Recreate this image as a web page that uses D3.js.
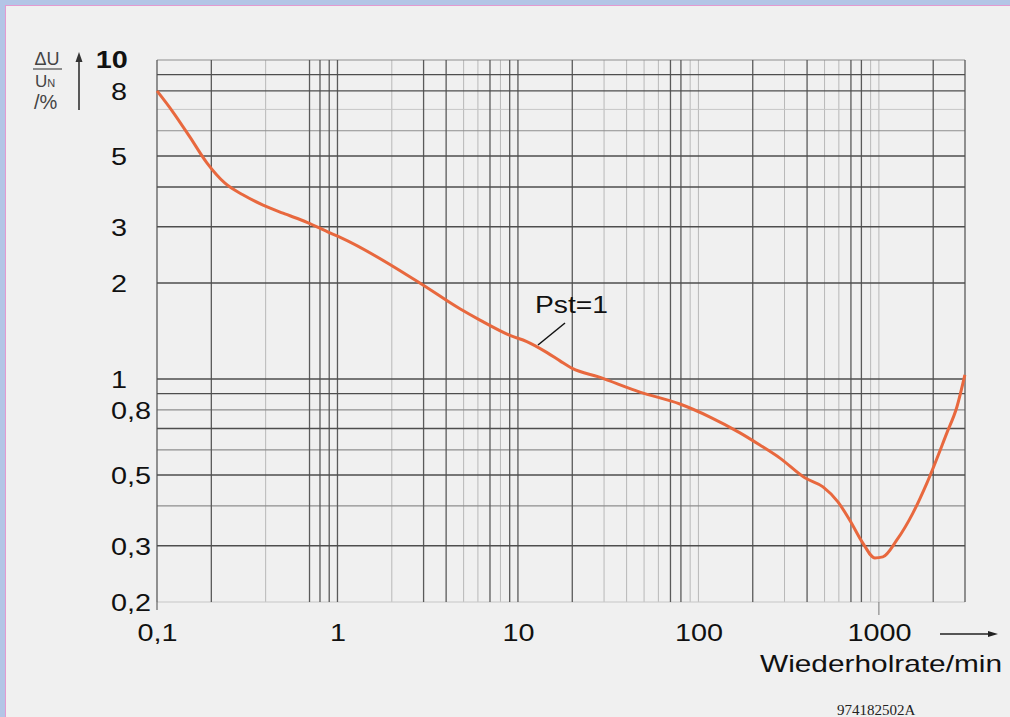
<!DOCTYPE html>
<html>
<head>
<meta charset="utf-8">
<script src="https://cdn.jsdelivr.net/npm/d3@7"></script>
<style>
  html, body { margin: 0; padding: 0; background: #f0f0f0; }
  svg { display: block; }
</style>
</head>
<body>
<svg id="chart" width="1010" height="717"></svg>
<script>
// ---- data ----
const rateValues = [0.1, 0.1226, 0.152, 0.189, 0.238, 0.299, 0.387, 0.499, 0.678, 0.909, 1.05, 2.86, 4.77, 6.16, 9.03, 11.2, 14.5, 17.1, 20, 28, 47.4, 79, 116, 170, 219, 283, 389, 490, 593, 690, 815, 950, 1052, 1258, 1543, 1845, 2381, 2705, 2995];
const dUValues   = [8.0, 6.87, 5.74, 4.76, 4.11, 3.78, 3.51, 3.31, 3.10, 2.87, 2.77, 2.0, 1.66, 1.53, 1.37, 1.31, 1.21, 1.14, 1.08, 1.015, 0.91, 0.835, 0.76, 0.678, 0.621, 0.565, 0.49, 0.459, 0.412, 0.361, 0.306, 0.275, 0.277, 0.313, 0.380, 0.472, 0.678, 0.817, 1.03];
const xTickValues = [0.1, 1, 10, 100, 1000];
const xTickLabels = ["0,1", "1", "10", "100", "1000"];
const yTickValues = [10, 8, 5, 3, 2, 1, 0.8, 0.5, 0.3, 0.2];
const yTickLabels = ["10", "8", "5", "3", "2", "1", "0,8", "0,5", "0,3", "0,2"];
const gridXDark  = [0.1, 0.2, 0.7, 0.8, 0.9, 1, 3, 4, 7, 9, 10, 20, 70, 80, 200, 400, 700, 800, 2000, 3000];
const gridXLight = [0.4, 2, 5, 6, 8, 30, 40, 50, 60, 90, 100, 300, 500, 600, 900, 1000];
const gridYDark  = [9, 8, 5, 4, 3, 2, 1, 0.9, 0.7, 0.5, 0.3];
const gridYMid   = [10, 6, 0.8, 0.6, 0.4];
const gridYLight = [7, 0.2];
const curveLabel = "Pst=1";
const xAxisTitle = "Wiederholrate/min";
const figureCode = "974182502A";

// ---- layout ----
const SANS = "'Liberation Sans', Arial, sans-serif";
const svg = d3.select("#chart");
const x = d3.scaleLog().domain([0.1, 3000]).range([157, 965]);
const y = d3.scaleLog().domain([0.2, 10]).range([602, 60]);

// page frame
svg.append("rect").attr("x", 0).attr("y", 0).attr("width", 1010).attr("height", 717).attr("fill", "#f0f0f0");
svg.append("rect").attr("x", 0).attr("y", 0).attr("width", 1010).attr("height", 5).attr("fill", "#b3c5e6");
svg.append("rect").attr("x", 0).attr("y", 0).attr("width", 5).attr("height", 717).attr("fill", "#b3c5e6");
svg.append("line").attr("x1", 5).attr("x2", 1010).attr("y1", 5.5).attr("y2", 5.5).attr("stroke", "#e39ad0").attr("stroke-width", 1);
svg.append("line").attr("x1", 5.5).attr("x2", 5.5).attr("y1", 5).attr("y2", 717).attr("stroke", "#e39ad0").attr("stroke-width", 1);

// grid
const grid = svg.append("g");
function vLines(vals, color, w) {
  grid.selectAll(null).data(vals).enter().append("line")
    .attr("x1", d => x(d)).attr("x2", d => x(d))
    .attr("y1", y(10)).attr("y2", y(0.2))
    .attr("stroke", color).attr("stroke-width", w);
}
function hLines(vals, color, w) {
  grid.selectAll(null).data(vals).enter().append("line")
    .attr("x1", x(0.1)).attr("x2", x(3000))
    .attr("y1", d => y(d)).attr("y2", d => y(d))
    .attr("stroke", color).attr("stroke-width", w);
}
vLines(gridXLight, "#b8b8b8", 1);
hLines(gridYLight, "#c6c6c6", 1);
hLines(gridYMid, "#8e8e8e", 1.2);
vLines(gridXDark, "#5a5a5a", 1.3);
hLines(gridYDark, "#4e4e4e", 1.4);
grid.append("line").attr("x1", x(1000)).attr("x2", x(1000)).attr("y1", y(0.2)).attr("y2", y(0.2) + 13)
  .attr("stroke", "#777").attr("stroke-width", 1);
grid.append("line").attr("x1", x(0.1)).attr("x2", x(0.1)).attr("y1", y(0.2)).attr("y2", y(0.2) + 8)
  .attr("stroke", "#666").attr("stroke-width", 1.2);

// curve
const line = d3.line().x((d, i) => x(rateValues[i])).y(d => y(d)).curve(d3.curveMonotoneX);
svg.append("path").datum(dUValues).attr("d", line)
  .attr("fill", "none").attr("stroke", "#e8683e").attr("stroke-width", 3).attr("stroke-linejoin", "round");

// axes
const xAxis = d3.axisBottom(x).tickValues(xTickValues)
  .tickFormat((d, i) => xTickLabels[i]).tickSize(0).tickPadding(0);
const gx = svg.append("g").attr("transform", `translate(0,${y(0.2)})`).call(xAxis);
gx.select(".domain").remove();
gx.selectAll("text").attr("y", 39).attr("dy", 0)
  .style("font-size", "24px").style("font-family", SANS)
  .attr("fill", "#111").attr("transform", "scale(1.2,1)");

const yAxis = d3.axisLeft(y).tickValues(yTickValues)
  .tickFormat((d, i) => yTickLabels[i]).tickSize(0).tickPadding(0);
const gy = svg.append("g").attr("transform", "translate(111,0)").call(yAxis);
gy.select(".domain").remove();
gy.selectAll("text")
  .attr("x", 0).attr("dy", "0.35em")
  .attr("text-anchor", "start")
  .style("font-size", "24px").style("font-family", SANS)
  .attr("fill", "#111").attr("transform", "scale(1.2,1)");
gy.selectAll(".tick").filter(d => d === 10).select("text")
  .attr("text-anchor", "end").attr("x", 14).attr("dy", "0.3em").style("font-weight", "bold");

// y-axis header
svg.append("text").attr("x", 47).attr("y", 65).attr("text-anchor", "middle")
  .style("font-family", SANS).style("font-size", "18px").attr("fill", "#444").text("ΔU");
svg.append("line").attr("x1", 33).attr("x2", 62).attr("y1", 69).attr("y2", 69).attr("stroke", "#555").attr("stroke-width", 1.3);
const un = svg.append("text").attr("x", 35).attr("y", 87).style("font-family", SANS).style("font-size", "17px").attr("fill", "#444");
un.append("tspan").text("U");
un.append("tspan").style("font-size", "11px").text("N");
svg.append("text").attr("x", 34).attr("y", 109).style("font-family", SANS).style("font-size", "20px").attr("fill", "#444").text("/%");
svg.append("line").attr("x1", 79).attr("x2", 79).attr("y1", 110).attr("y2", 58).attr("stroke", "#333").attr("stroke-width", 1.6);
svg.append("path").attr("d", "M75.5,62 L79,52 L82.5,62 Z").attr("fill", "#333");

// x-axis title and arrow
svg.append("line").attr("x1", 940).attr("x2", 992).attr("y1", 634).attr("y2", 634).attr("stroke", "#222").attr("stroke-width", 1.6);
svg.append("path").attr("d", "M988,631 L998,634 L988,637 Z").attr("fill", "#222");
svg.append("text").attr("x", 760).attr("y", 672).style("font-family", SANS).style("font-size", "24px")
  .attr("fill", "#111").attr("textLength", 242).attr("lengthAdjust", "spacingAndGlyphs").text(xAxisTitle);

// curve label
svg.append("text").attr("x", 535).attr("y", 313).style("font-family", SANS).style("font-size", "24px")
  .attr("fill", "#111").attr("textLength", 73).attr("lengthAdjust", "spacingAndGlyphs").text(curveLabel);
svg.append("line").attr("x1", 538).attr("y1", 345).attr("x2", 565).attr("y2", 323).attr("stroke", "#111").attr("stroke-width", 1.5);

// figure code
svg.append("text").attr("x", 837).attr("y", 715)
  .style("font-family", "'Liberation Serif', 'Times New Roman', serif").style("font-size", "15px")
  .attr("fill", "#222").text(figureCode);
</script>
</body>
</html>
